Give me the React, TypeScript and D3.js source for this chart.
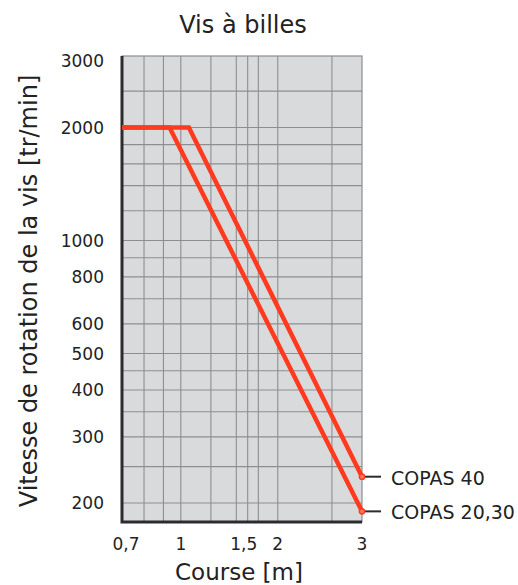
import React, { useEffect, useRef } from "react";
import * as d3 from "d3";

// values (log-log chart)
const courseCopas40 = [0.7, 1.05, 3];
const speedCopas40 = [2000, 2000, 235];
const courseCopas2030 = [0.7, 0.934, 3];
const speedCopas2030 = [2000, 2000, 190];
const seriesNames = ["COPAS 40", "COPAS 20,30"];

const yTickValues = [3000, 2000, 1000, 800, 600, 500, 400, 300, 200];
const yGridValues = [2500, 2000, 1800, 1600, 1400, 1200, 1000, 900, 800, 700, 600, 500, 450, 400, 350, 300, 250, 200];
// the "2" label sits on the 1.8 grid line in the original
const xTickValues = [0.7, 1, 1.5, 1.8, 3];
const xTickLabels = ["0,7", "1", "1,5", "2", "3"];
const xGridValues = [0.8, 0.9, 1, 1.2, 1.4, 1.5, 1.6, 1.8, 2.5];

const FONT = "'DejaVu Sans', sans-serif";

export default function App() {
  const ref = useRef<SVGSVGElement | null>(null);

  useEffect(() => {
    drawChart();
  }, []);

  function drawChart() {
    const svg = d3.select(ref.current);
    svg.selectAll("*").remove();

    const left = 122;
    const right = 362;
    const top = 56;
    const bottom = 522;

    const x = d3.scaleLog().domain([0.7, 3]).range([left, right]);
    const y = d3.scaleLog().domain([178, 3100]).range([bottom, top]);

    // plot background
    svg
      .append("rect")
      .attr("x", left)
      .attr("y", top)
      .attr("width", right - left)
      .attr("height", bottom - top)
      .attr("fill", "#d9dadc")
      .attr("stroke", "#8e8e90")
      .attr("stroke-width", 1.2);

    // grid
    svg
      .append("g")
      .selectAll("line")
      .data(yGridValues)
      .enter()
      .append("line")
      .attr("x1", left)
      .attr("x2", right)
      .attr("y1", (d) => y(d))
      .attr("y2", (d) => y(d))
      .attr("stroke", "#8e8e90")
      .attr("stroke-width", 1.1);

    svg
      .append("g")
      .selectAll("line")
      .data(xGridValues)
      .enter()
      .append("line")
      .attr("x1", (d) => x(d))
      .attr("x2", (d) => x(d))
      .attr("y1", top)
      .attr("y2", bottom)
      .attr("stroke", "#8e8e90")
      .attr("stroke-width", 1.1);

    // axes
    svg
      .append("path")
      .attr("d", `M${left},${top}V${bottom}H${right}`)
      .attr("fill", "none")
      .attr("stroke", "#2b2b30")
      .attr("stroke-width", 3);

    // y tick labels
    svg
      .append("g")
      .selectAll("text")
      .data(yTickValues)
      .enter()
      .append("text")
      .attr("x", 104)
      .attr("y", (d) => y(d))
      .attr("dy", "0.36em")
      .attr("text-anchor", "end")
      .style("font-family", FONT)
      .style("font-size", "17px")
      .style("fill", "#222")
      .text((d) => String(d));

    // x tick labels
    svg
      .append("g")
      .selectAll("text")
      .data(xTickValues)
      .enter()
      .append("text")
      .attr("x", (d, i) => x(d) + (i === 0 ? 4 : i === 2 ? -4 : 0))
      .attr("y", 550)
      .attr("text-anchor", "middle")
      .style("font-family", FONT)
      .style("font-size", "17px")
      .style("fill", "#222")
      .text((_, i) => xTickLabels[i]);

    // series
    const line = d3
      .line<[number, number]>()
      .x((d) => x(d[0]))
      .y((d) => y(d[1]));

    const series = [
      courseCopas40.map((c, i) => [c, speedCopas40[i]] as [number, number]),
      courseCopas2030.map((c, i) => [c, speedCopas2030[i]] as [number, number]),
    ];

    series.forEach((pts, i) => {
      svg
        .append("path")
        .attr("d", line(pts))
        .attr("fill", "none")
        .attr("stroke", "#ff3a1e")
        .attr("stroke-width", 4.5)
        .attr("stroke-linejoin", "miter");

      const end = pts[pts.length - 1];
      const ex = x(end[0]);
      const ey = y(end[1]);

      svg
        .append("line")
        .attr("x1", ex)
        .attr("x2", ex + 19)
        .attr("y1", ey)
        .attr("y2", ey)
        .attr("stroke", "#2b2b30")
        .attr("stroke-width", 2);

      svg
        .append("circle")
        .attr("cx", ex)
        .attr("cy", ey)
        .attr("r", 2.6)
        .attr("fill", "#ff7a60")
        .attr("stroke", "#ff3a1e")
        .attr("stroke-width", 1.5);

      svg
        .append("text")
        .attr("x", ex + 29)
        .attr("y", ey)
        .attr("dy", "0.42em")
        .style("font-family", FONT)
        .style("font-size", "19px")
        .style("fill", "#222")
        .text(seriesNames[i]);
    });

    // titles
    svg
      .append("text")
      .attr("x", 243)
      .attr("y", 33)
      .attr("text-anchor", "middle")
      .style("font-family", FONT)
      .style("font-size", "24px")
      .style("fill", "#222")
      .text("Vis à billes");

    svg
      .append("text")
      .attr("x", 239)
      .attr("y", 580)
      .attr("text-anchor", "middle")
      .style("font-family", FONT)
      .style("font-size", "23px")
      .style("fill", "#222")
      .text("Course [m]");

    svg
      .append("text")
      .attr("transform", "translate(37,291) rotate(-90)")
      .attr("text-anchor", "middle")
      .style("font-family", FONT)
      .style("font-size", "24px")
      .style("fill", "#222")
      .text("Vitesse de rotation de la vis [tr/min]");
  }

  return (
    <svg
      ref={ref}
      width={518}
      height={585}
      style={{ position: "absolute", left: 0, top: 0, background: "#fff" }}
    />
  );
}
